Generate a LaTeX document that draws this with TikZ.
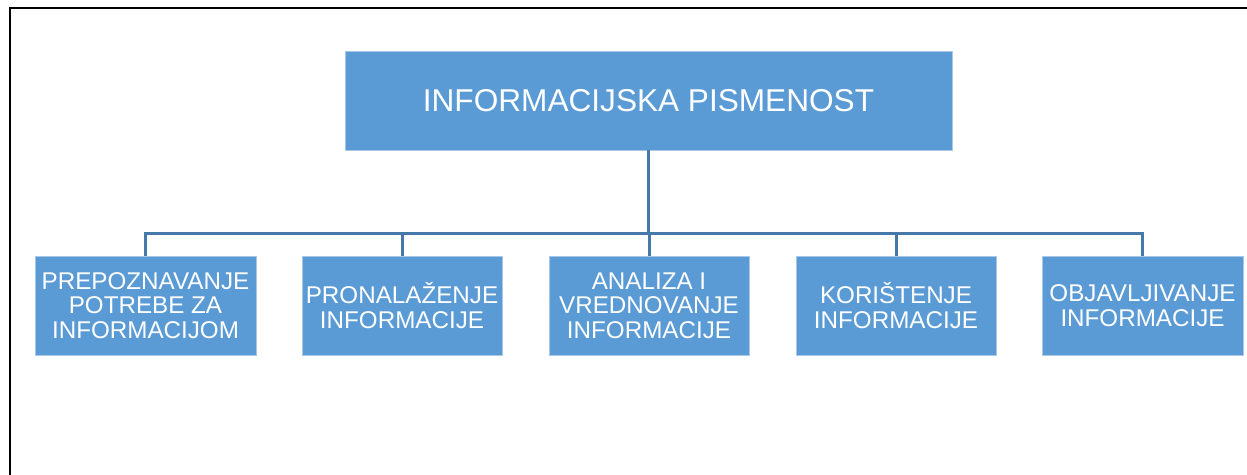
\documentclass[tikz,border=0pt]{standalone}
\usepackage{fontspec}
\setmainfont{Liberation Sans}
\definecolor{boxfill}{HTML}{5B9BD5}
\definecolor{boxedge}{HTML}{A9C8E8}
\definecolor{conncol}{HTML}{4679AA}
\tikzset{
  box/.style={fill=boxfill, draw=boxedge, line width=0.8pt, text=white, align=center, inner sep=0pt, minimum height=99pt},
  childbox/.style={box, minimum width=200pt, font=\fontsize{24.2pt}{24.4pt}\selectfont},
  conn/.style={draw=conncol, line width=3pt},
  frame/.style={draw=black, line width=2.5pt}
}
\begin{document}
\begin{tikzpicture}[x=1pt,y=-1pt]
\useasboundingbox (0,0) rectangle (1247,474);
\fill[white] (0,0) rectangle (1247,474);
\draw[frame] (10,476) -- (10,8) -- (1249,8);
\node[box, minimum width=607pt, font=\fontsize{31.6pt}{34pt}\selectfont] (top) at (648.5,100.5) {INFORMACIJSKA PISMENOST};
\node[childbox, minimum width=221pt] (c1) at (145.5,305.5) {PREPOZNAVANJE\\POTREBE ZA\\INFORMACIJOM};
\node[childbox] (c2) at (402,305.5) {PRONALAŽENJE\\INFORMACIJE};
\node[childbox] (c3) at (649,305.5) {ANALIZA I\\VREDNOVANJE\\INFORMACIJE};
\node[childbox] (c4) at (896,305.5) {KORIŠTENJE\\INFORMACIJE};
\node[childbox, minimum width=201pt] (c5) at (1142.5,305.5) {OBJAVLJIVANJE\\INFORMACIJE};
\coordinate (bar) at (648.5,233.5);
\draw[conn] (top.south) -- (bar);
\draw[conn] (c1.north) |- (bar);
\draw[conn] (c2.north) |- (bar);
\draw[conn] (c3.north) |- (bar);
\draw[conn] (c4.north) |- (bar);
\draw[conn] (c5.north) |- (bar);
\end{tikzpicture}
\end{document}
